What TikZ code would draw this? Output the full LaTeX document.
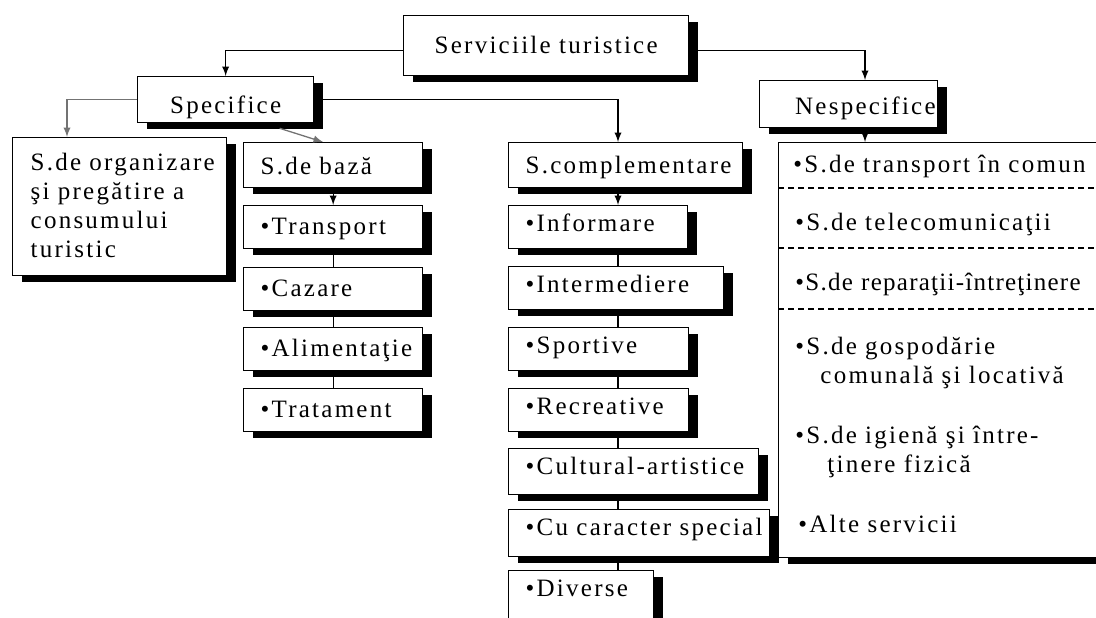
\documentclass[tikz,border=0pt]{standalone}
\usepackage{fontspec}
\setmainfont{Liberation Serif}[LetterSpace=9]
\usepackage{tikz}
\usetikzlibrary{shadows}
\tikzstyle{box}=[draw, fill=white, line width=0.65pt, anchor=north west, inner ysep=0pt, inner xsep=8.5pt, align=left, drop shadow={shadow xshift=4.5pt, shadow yshift=-3pt, opacity=1, fill=black}]
\tikzstyle{leg}=[line width=0.65pt]
\tikzstyle{item}=[anchor=base west, inner sep=0pt, align=left, text width=160pt]

\begin{document}
\begin{tikzpicture}[x=0.5pt, y=-0.5pt, >=latex, font=\fontsize{12.5}{14.5}\selectfont]
\useasboundingbox (0,0) rectangle (1096,617);
\coordinate (mx) at (618,0);
\coordinate (nx) at (865,0);
\node[box, align=center, inner xsep=0pt, text width=142.5pt, text height=19pt, text depth=11pt] (serv) at (403,15) {Serviciile turistice};
\node[box, align=center, inner xsep=0pt, text width=88pt, text height=18.5pt, text depth=4.5pt] (spec) at (137,76) {Specifice};
\node[box, align=right, inner xsep=1pt, text width=87pt, text height=17pt, text depth=6.5pt] (nesp) at (759,80) {Nespecifice};
\node[box, inner xsep=9pt, text width=89pt, text height=16.5pt, text depth=52.5pt] (org) at (12,137) {\mbox{S.de organizare}\\şi pregătire a\\consumului\\turistic};
\node[box, text width=72.5pt, text height=16pt, text depth=6.5pt] (baza) at (243,142) {\mbox{S.de bază}};
\node[box, text width=100pt, text height=15.5pt, text depth=7pt] (compl) at (508,142) {\mbox{S.complementare}};
\foreach \n/\y/\t in {tr/205/Transport, caz/267/Cazare, ali/327/Alimentaţie, trt/388/Tratament}
  \node[box, text width=72.5pt, text height=14.5pt, text depth=7pt] (\n) at (243,\y) {\mbox{•\t}};
\foreach \n/\y/\w/\d/\t in {inf/205/72.5/8.5/Informare, intm/266/90.5/8.5/Intermediere, spt/327/73/8.5/Sportive, rec/388/73/8.5/Recreative, cult/448/108/10/Cultural-artistice, cuc/509/113.5/10.5/Cu caracter special, div/570/55.5/14/Diverse}
  \node[box, text width=\w pt, text height=13pt, text depth=\d pt] (\n) at (508,\y) {\mbox{•\t}};
\node[box, inner sep=0pt, minimum width=166pt, minimum height=207.5pt] (lst) at (778,142) {};
\foreach \y in {188,248,309}
  \draw[leg, dash pattern=on 3pt off 2pt] (lst.west |- 0,\y) -- (lst.east |- 0,\y);
\foreach \n/\x/\y/\t in {n1/793/172/{•S.de transport în comun}, n2/795/230/{•S.de telecomunicaţii}, n3/795/290/{\addfontfeature{LetterSpace=5}•S.de reparaţii-întreţinere}, n4/795/354/{•S.de gospodărie\\\hspace*{12.5pt}comunală şi locativă}, n5/795/443/{•S.de igienă şi între-\\\hspace*{16pt}ţinere fizică}, n6/798/532/{•Alte servicii}}
  \node[item] (\n) at (\x,\y) {\t};
\draw[leg,->] ([yshift=-2.5pt]serv.west) -| (spec.north);
\draw[leg,->] ([yshift=-2.5pt]serv.east) -| (nx |- nesp.north);
\draw[leg,black!55,->] (spec.west) -| ([xshift=27.5pt]org.north west);
\draw[leg,black!55,->] ([xshift=27pt,yshift=-2.5pt]spec.south) -- ([xshift=40pt]baza.north west);
\draw[leg,->] (spec.east) -| (mx |- compl.north);
\draw[leg,->] (baza.south) -- (tr.north);
\foreach \a/\b in {tr/caz, caz/ali, ali/trt}
  \draw[leg] (\a.south) -- (\b.north);
\draw[leg,->] (mx |- compl.south) -- (mx |- inf.north);
\foreach \a/\b in {inf/intm, intm/spt, spt/rec, rec/cult, cult/cuc, cuc/div}
  \draw[leg] (mx |- \a.south) -- (mx |- \b.north);
\draw[leg,->] (nx |- nesp.south) -- (nx |- lst.north);
\end{tikzpicture}
\end{document}
